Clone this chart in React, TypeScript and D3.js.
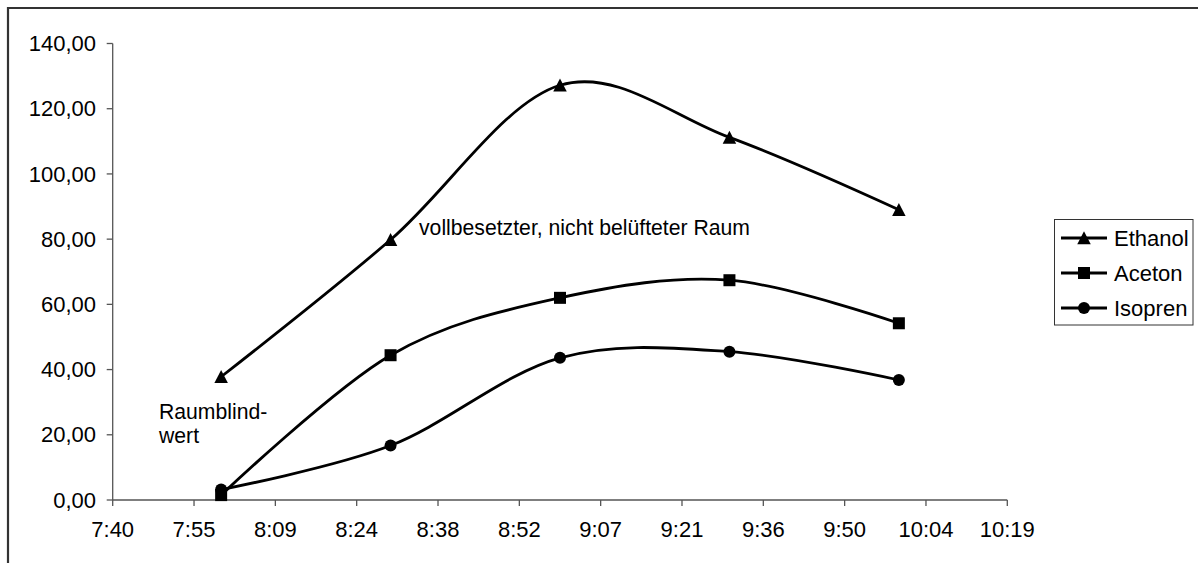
import React from "react";
import * as d3 from "d3";

const times = ["8:00", "8:30", "9:00", "9:30", "10:00"];
const ethanol = [37.8, 79.8, 127.2, 111.2, 89.0];
const aceton = [1.5, 44.4, 62.0, 67.4, 54.2];
const isopren = [3.2, 16.7, 43.6, 45.5, 36.8];

const seriesNames = ["Ethanol", "Aceton", "Isopren"];
const seriesShapes = ["triangle", "square", "circle"];

const xTickLabels = ["7:40", "7:55", "8:09", "8:24", "8:38", "8:52", "9:07", "9:21", "9:36", "9:50", "10:04", "10:19"];
const yTicks = [0, 20, 40, 60, 80, 100, 120, 140];

const toMin = (t: string) => {
  const [h, m] = t.split(":").map(Number);
  return h * 60 + m;
};

const W = 1198;
const H = 563;
const FONT = "'Liberation Sans', Arial, sans-serif";
const FS = 22;
const FS_NOTE = 21.2;

const xStart = 0.32 * 1440; // 7:40.8
const xStep = 0.01 * 1440; // 14.4 min
const x = d3.scaleLinear().domain([xStart, xStart + xStep * (xTickLabels.length - 1)]).range([112.7, 1007.3]);
const y = d3.scaleLinear().domain([0, 140]).range([500, 43.5]);

function Marker({ shape, cx, cy }: { shape: string; cx: number; cy: number }) {
  if (shape === "triangle") {
    const w = 13.5, h = 12.5;
    return <path d={`M${cx},${cy - h / 2 - 0.5}L${cx + w / 2},${cy + h / 2}L${cx - w / 2},${cy + h / 2}Z`} fill="#000" />;
  }
  if (shape === "square") {
    const s = 12;
    return <rect x={cx - s / 2} y={cy - s / 2} width={s} height={s} fill="#000" />;
  }
  return <circle cx={cx} cy={cy} r={6} fill="#000" />;
}

export default function App() {
  const data = [ethanol, aceton, isopren];
  const line = d3
    .line<[number, number]>()
    .x((d) => x(d[0]))
    .y((d) => y(d[1]))
    .curve(d3.curveCardinal.tension(0));
  const tm = times.map(toMin);
  const fmtY = (v: number) => d3.format(".2f")(v).replace(".", ",");

  return (
    <div style={{ position: "absolute", left: 0, top: 0 }}>
      <svg width={W} height={H} style={{ display: "block", background: "#fff" }} fontFamily={FONT}>
        {/* frame */}
        <path d={`M8,${H + 5}L8,8L${W + 5},8`} fill="none" stroke="#333" strokeWidth={2.2} />

        {/* y axis */}
        <line x1={x.range()[0]} x2={x.range()[0]} y1={y(140)} y2={y(0)} stroke="#555" strokeWidth={1.3} />
        {yTicks.map((v) => (
          <g key={v}>
            <line x1={x.range()[0] - 6} x2={x.range()[0]} y1={y(v)} y2={y(v)} stroke="#555" strokeWidth={1.3} />
            <text x={96} y={y(v)} dy="0.35em" textAnchor="end" fontSize={FS} fill="#000">
              {fmtY(v)}
            </text>
          </g>
        ))}

        {/* x axis */}
        <line x1={x.range()[0]} x2={x.range()[1]} y1={y(0)} y2={y(0)} stroke="#555" strokeWidth={1.3} />
        {xTickLabels.map((lab, i) => {
          const xv = x(xStart + i * xStep);
          return (
            <g key={lab}>
              <line x1={xv} x2={xv} y1={y(0)} y2={y(0) + 6} stroke="#555" strokeWidth={1.3} />
              <text x={xv} y={537} textAnchor="middle" fontSize={FS} fill="#000">
                {lab}
              </text>
            </g>
          );
        })}

        {/* series */}
        {data.map((vals, si) => {
          const pts = vals.map((v, i) => [tm[i], v] as [number, number]);
          return (
            <g key={seriesNames[si]}>
              <path d={line(pts) || ""} fill="none" stroke="#000" strokeWidth={2.8} strokeLinejoin="round" />
              {pts.map((p, i) => (
                <Marker key={i} shape={seriesShapes[si]} cx={x(p[0])} cy={y(p[1])} />
              ))}
            </g>
          );
        })}

        {/* annotations */}
        <text x={419} y={235} fontSize={FS_NOTE} fill="#000">
          vollbesetzter, nicht belüfteter Raum
        </text>
        <text x={159} y={419} fontSize={FS_NOTE} fill="#000">
          Raumblind-
        </text>
        <text x={159} y={443} fontSize={FS_NOTE} fill="#000">
          wert
        </text>

        {/* legend */}
        <rect x={1054.5} y={219.5} width={138.5} height={105.5} fill="#fff" stroke="#333" strokeWidth={1} />
        {seriesNames.map((n, i) => {
          const cy = 238 + i * 35;
          return (
            <g key={n}>
              <line x1={1061} x2={1107} y1={cy} y2={cy} stroke="#000" strokeWidth={2.8} />
              <Marker shape={seriesShapes[i]} cx={1084} cy={cy} />
              <text x={1114} y={cy} dy="0.35em" fontSize={FS} fill="#000">
                {n}
              </text>
            </g>
          );
        })}
      </svg>
    </div>
  );
}
